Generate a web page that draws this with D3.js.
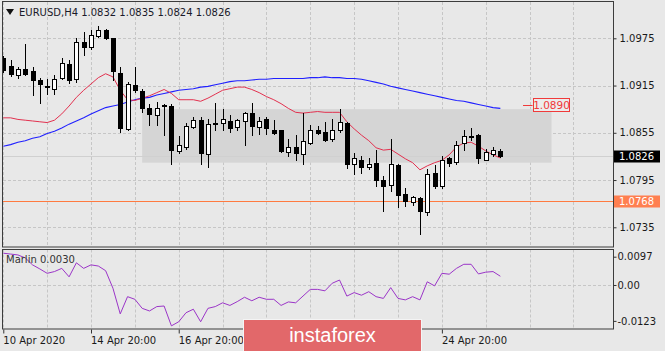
<!DOCTYPE html>
<html>
<head>
<meta charset="utf-8">
<script src="https://cdn.jsdelivr.net/npm/d3@7/dist/d3.min.js"></script>
<style>
html, body { margin: 0; padding: 0; background: #e8e8e8; }
svg { display: block; font-family: "DejaVu Sans", sans-serif; }
</style>
</head>
<body>
<div id="chart"></div>
<script>
// EURUSD H4 candles, one value per bar (bar 0 = left edge)
var opens  = [1.0950,1.0940,1.0928,1.0936,1.0933,1.0922,1.0915,1.0911,1.0925,1.0942,
              1.0923,1.0970,1.0964,1.0978,1.0986,1.0975,1.0931,1.0860,1.0916,1.0908,
              1.0886,1.0878,1.0890,1.0889,1.0832,1.0837,1.0862,1.0871,1.0828,1.0867,
              1.0867,1.0870,1.0862,1.0870,1.0880,1.0862,1.0872,1.0859,1.0858,1.0831,
              1.0837,1.0828,1.0842,1.0859,1.0856,1.0847,1.0859,1.0868,1.0815,1.0821,
              1.0812,1.0817,1.0795,1.0789,1.0814,1.0777,1.0767,1.0772,1.0755,1.0804,
              1.0787,1.0823,1.0818,1.0842,1.0851,1.0852,1.0821,1.0828,1.0832];
var highs  = [1.0953,1.0947,1.0939,1.0968,1.0939,1.0925,1.0923,1.0928,1.0950,1.0947,
              1.0975,1.0983,1.0986,1.0990,1.0987,1.0976,1.0939,1.0920,1.0939,1.0911,
              1.0892,1.0894,1.0892,1.0892,1.0851,1.0868,1.0875,1.0875,1.0873,1.0893,
              1.0885,1.0878,1.0873,1.0881,1.0893,1.0875,1.0875,1.0871,1.0859,1.0847,
              1.0852,1.0880,1.0865,1.0863,1.0869,1.0873,1.0885,1.0869,1.0829,1.0825,
              1.0823,1.0833,1.0800,1.0847,1.0815,1.0785,1.0775,1.0774,1.0809,1.0814,
              1.0826,1.0824,1.0844,1.0859,1.0861,1.0854,1.0834,1.0837,1.0835];
var lows   = [1.0932,1.0927,1.0924,1.0928,1.0903,1.0893,1.0904,1.0904,1.0923,1.0918,
              1.0920,1.0954,1.0962,1.0977,1.0974,1.0922,1.0856,1.0859,1.0907,1.0882,
              1.0865,1.0865,1.0852,1.0816,1.0829,1.0835,1.0861,1.0816,1.0812,1.0859,
              1.0859,1.0856,1.0859,1.0840,1.0852,1.0854,1.0854,1.0854,1.0830,1.0826,
              1.0821,1.0816,1.0841,1.0854,1.0844,1.0844,1.0856,1.0810,1.0803,1.0804,
              1.0809,1.0787,1.0756,1.0781,1.0761,1.0762,1.0763,1.0727,1.0751,1.0785,
              1.0785,1.0813,1.0816,1.0833,1.0846,1.0817,1.0820,1.0825,1.0824];
var closes = [1.0935,1.0930,1.0936,1.0930,1.0922,1.0917,1.0913,1.0923,1.0944,1.0922,
              1.0970,1.0964,1.0979,1.0986,1.0975,1.0933,1.0861,1.0917,1.0909,1.0886,
              1.0879,1.0887,1.0889,1.0833,1.0840,1.0864,1.0871,1.0829,1.0866,1.0866,
              1.0872,1.0861,1.0871,1.0880,1.0863,1.0870,1.0861,1.0855,1.0832,1.0837,
              1.0829,1.0844,1.0858,1.0855,1.0846,1.0859,1.0869,1.0815,1.0823,1.0812,
              1.0816,1.0795,1.0787,1.0815,1.0776,1.0768,1.0773,1.0756,1.0803,1.0787,
              1.0821,1.0817,1.0840,1.0851,1.0850,1.0823,1.0830,1.0833,1.0826];

// moving averages
var fastMA = [1.0874,1.0874,1.0872,1.0871,1.0870,1.0869,1.0868,1.0871,1.0879,1.0889,
              1.0900,1.0909,1.0917,1.0925,1.0930,1.0926,1.0909,1.0897,1.0896,1.0899,
              1.0902,1.0906,1.0910,1.0905,1.0897,1.0897,1.0897,1.0895,1.0899,1.0904,
              1.0909,1.0911,1.0913,1.0913,1.0910,1.0906,1.0901,1.0897,1.0892,1.0886,
              1.0881,1.0880,1.0881,1.0882,1.0881,1.0881,1.0881,1.0869,1.0860,1.0852,
              1.0845,1.0836,1.0833,1.0834,1.0828,1.0822,1.0817,1.0808,1.0813,1.0817,
              1.0820,1.0827,1.0837,1.0842,1.0843,1.0838,1.0832,1.0827,1.0823];
var slowMA = [1.0838,1.0840,1.0843,1.0845,1.0848,1.0850,1.0854,1.0857,1.0861,1.0866,
              1.0870,1.0874,1.0879,1.0883,1.0887,1.0889,1.0891,1.0894,1.0897,1.0899,
              1.0900,1.0903,1.0905,1.0907,1.0909,1.0910,1.0911,1.0913,1.0914,1.0916,
              1.0918,1.0920,1.0921,1.0921,1.0922,1.0923,1.0923,1.0924,1.0924,1.0924,
              1.0924,1.0924,1.0925,1.0925,1.0926,1.0925,1.0925,1.0924,1.0924,1.0923,
              1.0921,1.0919,1.0917,1.0914,1.0912,1.0910,1.0908,1.0906,1.0904,1.0902,
              1.0900,1.0898,1.0896,1.0895,1.0893,1.0891,1.0889,1.0887,1.0886];

// Marlin oscillator
var marlin = [0.0109,0.0106,0.0103,0.0093,0.0069,0.0055,0.0040,0.0046,0.0057,0.0028,
              0.0076,0.0057,0.0069,0.0065,0.0049,-0.0011,-0.0099,-0.0040,-0.0049,-0.0080,
              -0.0089,-0.0074,-0.0072,-0.0140,-0.0126,-0.0095,-0.0083,-0.0126,-0.0080,-0.0074,
              -0.0061,-0.0070,-0.0057,-0.0042,-0.0054,-0.0042,-0.0049,-0.0049,-0.0070,-0.0058,
              -0.0061,-0.0038,-0.0015,-0.0015,-0.0020,0.0006,0.0017,-0.0038,-0.0026,-0.0035,
              -0.0023,-0.0040,-0.0046,-0.0009,-0.0046,-0.0051,-0.0040,-0.0051,0.0011,-0.0003,
              0.0040,0.0037,0.0057,0.0071,0.0071,0.0038,0.0044,0.0046,0.0030];

var priceTicks = [1.0975, 1.0915, 1.0855, 1.0795, 1.0735];
var marlinTicks = [0.0097, 0, -0.0123];
var marlinTickLabels = ["0.0097", "0.00", "-0.0123"];
// only the date labels that are not hidden under the watermark
var dateBars = [0, 12, 24, 60];
var dateLabels = ["10 Apr 2020", "14 Apr 20:00", "16 Apr 20:00", "24 Apr 20:00"];

var zone = {top: 1.0885, bottom: 1.0817, fromBar: 19, toBar: 75};
var supportLevel = 1.0768;
var targetLevel = 1.0890;
var lastPrice = 1.0826;

var width = 665, height = 351;
var main = {left: 3, right: 613, top: 2, bottom: 246.5};
var sub = {top: 249.5, bottom: 329};

var svg = d3.select("#chart").append("svg")
    .attr("width", width)
    .attr("height", height);

svg.append("rect").attr("width", width).attr("height", height).attr("fill", "#e8e8e8");

var x = d3.scaleLinear().domain([-0.04, 83.41]).range([main.left, main.right]);
var y = d3.scaleLinear().domain([1.07106, 1.10211]).range([main.bottom, main.top]);
var ym = d3.scaleLinear().domain([-0.01508, 0.012166]).range([sub.bottom, sub.top]);

function px(v) { return Math.round(v) + 0.5; }

var defs = svg.append("defs");
defs.append("clipPath").attr("id", "clipMain").append("rect")
    .attr("x", main.left).attr("y", main.top)
    .attr("width", main.right - main.left).attr("height", main.bottom - main.top);
defs.append("clipPath").attr("id", "clipSub").append("rect")
    .attr("x", main.left).attr("y", sub.top)
    .attr("width", main.right - main.left).attr("height", sub.bottom - sub.top);

var gMain = svg.append("g").attr("clip-path", "url(#clipMain)");
var gSub = svg.append("g").attr("clip-path", "url(#clipSub)");

// grid
var gridBars = d3.range(0, 84, 6);
gMain.selectAll(".vgrid").data(gridBars).enter().append("line")
    .attr("x1", function (d) { return px(x(d)); }).attr("x2", function (d) { return px(x(d)); })
    .attr("y1", main.top).attr("y2", main.bottom)
    .attr("stroke", "#c6c6c6").attr("stroke-dasharray", "3,2");
gMain.selectAll(".hgrid").data(priceTicks).enter().append("line")
    .attr("x1", main.left).attr("x2", main.right)
    .attr("y1", function (d) { return px(y(d)); }).attr("y2", function (d) { return px(y(d)); })
    .attr("stroke", "#c6c6c6").attr("stroke-dasharray", "3,2");
gSub.selectAll(".vgrid").data(gridBars).enter().append("line")
    .attr("x1", function (d) { return px(x(d)); }).attr("x2", function (d) { return px(x(d)); })
    .attr("y1", sub.top).attr("y2", sub.bottom)
    .attr("stroke", "#c6c6c6").attr("stroke-dasharray", "3,2");
gSub.append("line")
    .attr("x1", main.left).attr("x2", main.right)
    .attr("y1", px(ym(0))).attr("y2", px(ym(0)))
    .attr("stroke", "#c6c6c6").attr("stroke-dasharray", "3,2");

// range rectangle
gMain.append("rect")
    .attr("x", x(zone.fromBar)).attr("y", y(zone.top))
    .attr("width", x(zone.toBar) - x(zone.fromBar))
    .attr("height", y(zone.bottom) - y(zone.top))
    .attr("fill", "#d5d5d5");

// bid line
gMain.append("line")
    .attr("x1", main.left).attr("x2", main.right)
    .attr("y1", px(y(lastPrice))).attr("y2", px(y(lastPrice)))
    .attr("stroke", "#d0d0d0");

// support level
gMain.append("line")
    .attr("x1", main.left).attr("x2", main.right)
    .attr("y1", px(y(supportLevel))).attr("y2", px(y(supportLevel)))
    .attr("stroke", "#ff7a40").attr("stroke-width", 1.2);

// moving averages
var lineMain = d3.line().x(function (d, i) { return x(i); }).y(function (d) { return y(d); });
gMain.append("path").datum(slowMA).attr("d", lineMain)
    .attr("fill", "none").attr("stroke", "#2020ff").attr("stroke-width", 1.1);
gMain.append("path").datum(fastMA).attr("d", lineMain)
    .attr("fill", "none").attr("stroke", "#e2314f").attr("stroke-width", 1);

// candles
var bars = d3.range(opens.length);
var candle = gMain.selectAll(".candle").data(bars).enter().append("g");
candle.append("line")
    .attr("x1", function (i) { return px(x(i)); }).attr("x2", function (i) { return px(x(i)); })
    .attr("y1", function (i) { return Math.round(y(highs[i])); })
    .attr("y2", function (i) { return Math.round(y(lows[i])) + 1; })
    .attr("stroke", "#000");
candle.append("rect")
    .attr("x", function (i) { return px(x(i)) - 2; })
    .attr("y", function (i) { return px(y(Math.max(opens[i], closes[i]))); })
    .attr("width", 4)
    .attr("height", function (i) {
        return Math.max(0, Math.round(y(Math.min(opens[i], closes[i]))) - Math.round(y(Math.max(opens[i], closes[i]))));
    })
    .attr("fill", function (i) { return closes[i] >= opens[i] ? "#fff" : "#000"; })
    .attr("stroke", "#000");

// target label 1.0890
var tY = y(targetLevel);
svg.append("line")
    .attr("x1", x(71.1)).attr("x2", x(72.4))
    .attr("y1", px(tY)).attr("y2", px(tY))
    .attr("stroke", "#f03a3a");
svg.append("rect")
    .attr("x", px(x(72.4))).attr("y", px(tY - 7))
    .attr("width", 36).attr("height", 13)
    .attr("fill", "#ececec").attr("stroke", "#f03a3a");
svg.append("text")
    .attr("x", px(x(72.4)) + 18).attr("y", tY + 4)
    .attr("text-anchor", "middle").attr("font-size", 10.5).attr("fill", "#f03a3a")
    .text(d3.format(".4f")(targetLevel));

// marlin line
var lineSub = d3.line().x(function (d, i) { return x(i); }).y(function (d) { return ym(d); });
gSub.append("path").datum(marlin).attr("d", lineSub)
    .attr("fill", "none").attr("stroke", "#9b35c8").attr("stroke-width", 1);

// panel frames
svg.append("rect")
    .attr("x", main.left - 0.5).attr("y", main.top - 0.5)
    .attr("width", main.right - main.left + 1).attr("height", main.bottom - main.top + 1)
    .attr("fill", "none").attr("stroke", "#3c3c3c");
svg.append("rect")
    .attr("x", main.left - 0.5).attr("y", sub.top)
    .attr("width", main.right - main.left + 1).attr("height", sub.bottom - sub.top)
    .attr("fill", "none").attr("stroke", "#3c3c3c");

// axes
var yAxis = d3.axisRight(y).tickValues(priceTicks).tickSize(3).tickPadding(3)
    .tickFormat(d3.format(".4f"));
var gy = svg.append("g").attr("transform", "translate(" + (main.right + 0.5) + ",0)").call(yAxis);

var ymAxis = d3.axisRight(ym).tickValues(marlinTicks).tickSize(3).tickPadding(1)
    .tickFormat(function (d, i) { return marlinTickLabels[i]; });
var gym = svg.append("g").attr("transform", "translate(" + (main.right + 0.5) + ",0)").call(ymAxis);

var xAxis = d3.axisBottom(x).tickValues(dateBars).tickSize(4).tickPadding(3)
    .tickFormat(function (d, i) { return dateLabels[i]; });
var gx = svg.append("g").attr("transform", "translate(0," + (sub.bottom + 0.5) + ")").call(xAxis);
gx.selectAll("text").attr("text-anchor", "start").attr("dx", "-0.5");

[gy, gym, gx].forEach(function (g) {
    g.select(".domain").remove();
    g.selectAll("line").attr("stroke", "#333");
    g.selectAll("text").attr("fill", "#1a1a1a").attr("font-size", 10)
        .attr("font-family", "DejaVu Sans, sans-serif");
});

// price tags on the axis
function tag(value, fill) {
    var ty = y(value);
    svg.append("rect")
        .attr("x", 614).attr("y", Math.round(ty) - 5.5)
        .attr("width", 46).attr("height", 12)
        .attr("fill", fill);
    svg.append("text")
        .attr("x", 619).attr("y", ty + 4)
        .attr("font-size", 10).attr("fill", "#fff")
        .text(d3.format(".4f")(value));
}
tag(lastPrice, "#000");
tag(supportLevel, "#ff7f50");

// header
svg.append("path").attr("d", "M6,9 L14,9 L10,15 Z").attr("fill", "#111");
svg.append("text")
    .attr("x", 19).attr("y", 16).attr("font-size", 10).attr("fill", "#1a1a2a")
    .text("EURUSD,H4  " + [opens, highs, lows, closes].map(function (a) {
        return d3.format(".4f")(a[a.length - 1]);
    }).join(" "));
svg.append("text")
    .attr("x", 6).attr("y", 263).attr("font-size", 10).attr("fill", "#333")
    .text("Marlin " + d3.format(".4f")(marlin[marlin.length - 1]));

// watermark
svg.append("rect")
    .attr("x", 243.5).attr("y", 319.5).attr("width", 178).attr("height", 33)
    .attr("fill", "#e2686a").attr("stroke", "#f4f4f4");
svg.append("text")
    .attr("x", 332.5).attr("y", 342)
    .attr("text-anchor", "middle")
    .attr("font-family", "Liberation Sans, Arial, sans-serif")
    .attr("font-size", 20).attr("fill", "#fff")
    .text("instaforex");
</script>
</body>
</html>
